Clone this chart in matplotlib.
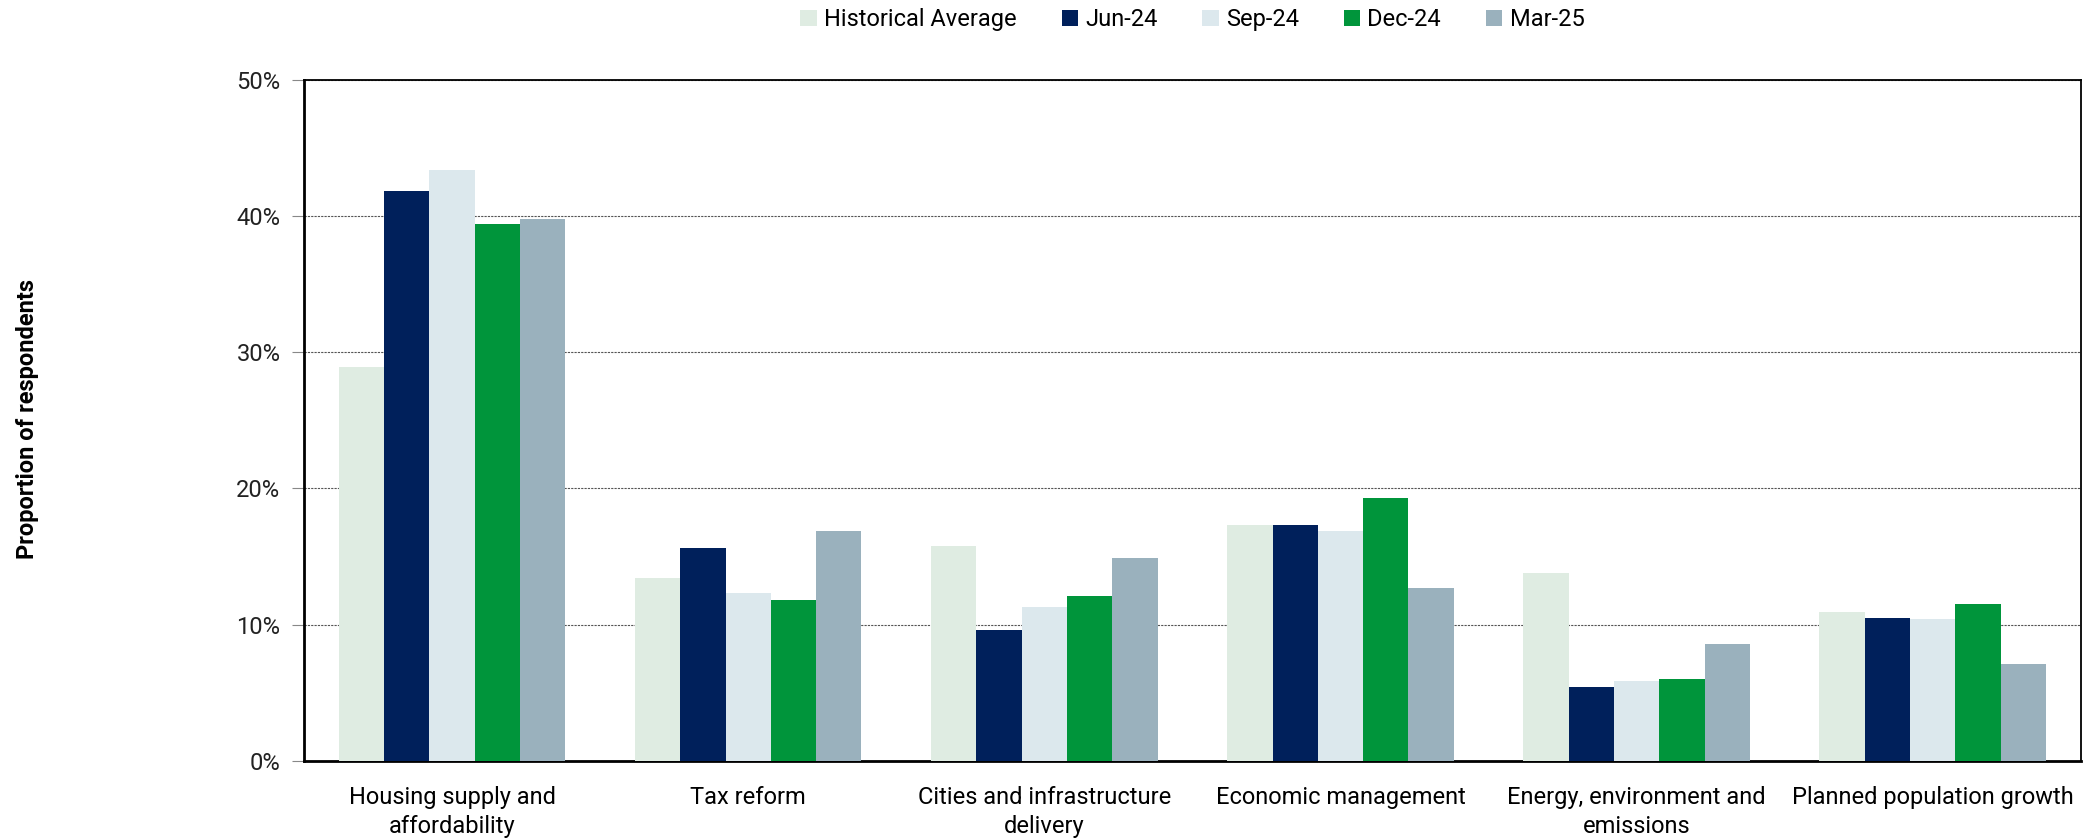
import numpy as np
import matplotlib
matplotlib.use("Agg")
import matplotlib.pyplot as plt
from matplotlib.ticker import PercentFormatter

categories = ["Housing supply and\naffordability", "Tax reform",
              "Cities and infrastructure\ndelivery", "Economic management",
              "Energy, environment and\nemissions", "Planned population growth"]
series = ["Historical Average", "Jun-24", "Sep-24", "Dec-24", "Mar-25"]
hist_avg = [28.9, 13.4, 15.8, 17.3, 13.8, 10.9]
jun24 = [41.8, 15.6, 9.6, 17.3, 5.4, 10.5]
sep24 = [43.4, 12.3, 11.3, 16.9, 5.9, 10.4]
dec24 = [39.4, 11.8, 12.1, 19.3, 6.0, 11.5]
mar25 = [39.8, 16.9, 14.9, 12.7, 8.6, 7.1]
colors = ["#DFECE2", "#00205B", "#DCE8ED", "#00953B", "#9AB1BD"]

plt.rcParams["font.family"] = ["Roboto", "DejaVu Sans"]

fig = plt.figure(figsize=(20.85, 8.38), dpi=100)
ax = fig.add_axes([0.1458, 0.092, 0.8522, 0.8128])

x = np.arange(len(categories))
w = 0.153
for i, (name, vals) in enumerate(zip(series, [hist_avg, jun24, sep24, dec24, mar25])):
    ax.bar(x + (i - 2) * w, vals, width=w, color=colors[i], label=name, zorder=3)

ax.set_xlim(-0.5, len(categories) - 0.5)
ax.set_ylim(0, 50)
ax.set_yticks(range(0, 51, 10))
ax.yaxis.set_major_formatter(PercentFormatter(decimals=0))
ax.yaxis.grid(True, linestyle=(0, (2, 1)), color="#555555", lw=0.8, zorder=0)
ax.set_xticks(x)
ax.set_xticklabels(categories, fontsize=17, linespacing=1.35)
ax.tick_params(axis="x", length=0, pad=18)
ax.tick_params(axis="y", length=9, color="#888888", labelsize=17, pad=8,
               labelcolor="#222222")
for s in ["left", "bottom"]:
    ax.spines[s].set_linewidth(2)
for s in ["top", "right"]:
    ax.spines[s].set_linewidth(1.3)

fig.text(0.013, 0.5, "Proportion of respondents", rotation=90, va="center", ha="center",
         fontsize=17, fontweight="bold")

ax.legend(loc="lower center", bbox_to_anchor=(0.5, 1.04), ncol=5, frameon=False,
          fontsize=17, handlelength=0.7, handleheight=0.7, handletextpad=0.3,
          columnspacing=1.9)

fig.savefig("out.png", dpi=100)
